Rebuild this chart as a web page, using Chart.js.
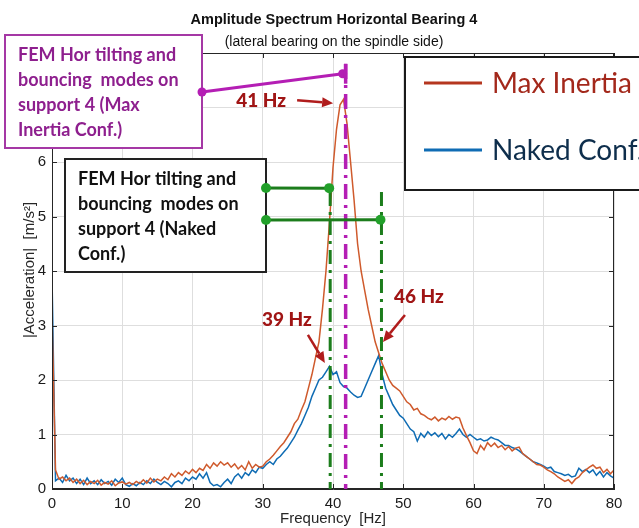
<!DOCTYPE html>
<html>
<head>
<meta charset="utf-8">
<script src="https://cdn.jsdelivr.net/npm/chart.js@4.4.0/dist/chart.umd.min.js"></script>
<style>
  html, body { margin: 0; padding: 0; background: #fff; }
</style>
</head>
<body>
<canvas id="chart" width="639" height="528"></canvas>
<script>
const FREQ_STEP = 0.5;

const maxInertia = [
    3.2, 0.35, 0.18, 0.22, 0.15, 0.2, 0.12, 0.18, 0.1, 0.16,
    0.08, 0.14, 0.1, 0.16, 0.07, 0.12, 0.09, 0.15, 0.06, 0.11,
    0.13, 0.09, 0.12, 0.08, 0.14, 0.1, 0.17, 0.11, 0.2, 0.13,
    0.18, 0.15, 0.22, 0.17, 0.28, 0.22, 0.3, 0.25, 0.33, 0.28,
    0.36, 0.3, 0.38, 0.34, 0.45, 0.38, 0.48, 0.42, 0.5, 0.44,
    0.48, 0.4, 0.46, 0.37, 0.43, 0.35, 0.5, 0.38, 0.45, 0.4,
    0.42, 0.5, 0.55, 0.62, 0.7, 0.78, 0.85, 0.95, 1.05, 1.2,
    1.28, 1.45, 1.6, 1.85, 2.1, 2.4, 2.7, 3.3, 4.0, 4.9,
    5.9, 6.6, 7.05, 7.15, 6.7, 6.0, 5.3, 4.5, 4.0, 3.65,
    3.3, 3.0, 2.7, 2.5, 2.3, 2.15, 2.0, 1.9, 1.85, 1.8,
    1.7, 1.6, 1.55, 1.45, 1.48, 1.38, 1.35, 1.3, 1.27, 1.32,
    1.25, 1.3, 1.27, 1.33, 1.28, 1.32, 1.3, 1.12, 0.98, 0.85,
    0.7, 0.65, 0.8, 0.72, 0.85, 0.78, 0.84, 0.76, 0.8, 0.72,
    0.78, 0.7, 0.75, 0.77, 0.65, 0.6, 0.55, 0.5, 0.45, 0.44,
    0.4, 0.35, 0.32, 0.28, 0.22, 0.18, 0.14, 0.17, 0.1, 0.18,
    0.22, 0.3, 0.35, 0.4, 0.44, 0.38, 0.4, 0.3, 0.36, 0.28,
    0.35
];

const naked = [
    3.9, 0.15, 0.2, 0.12, 0.25, 0.15, 0.2, 0.1, 0.18, 0.08,
    0.2, 0.1, 0.15, 0.08, 0.17, 0.1, 0.14, 0.07, 0.18, 0.12,
    0.2, 0.08, 0.05, 0.1, 0.06, 0.12, 0.08, 0.15, 0.1, 0.18,
    0.12, 0.08, 0.14, 0.1, 0.04, 0.12, 0.15, 0.1, 0.2, 0.15,
    0.22, 0.18, 0.28, 0.2, 0.3, 0.12, 0.06, 0.08, 0.04, 0.12,
    0.18, 0.1, 0.22, 0.28, 0.2, 0.3, 0.25, 0.35, 0.3, 0.4,
    0.38, 0.45, 0.5, 0.45, 0.55, 0.6, 0.68, 0.75, 0.85, 0.95,
    1.08, 1.2, 1.35, 1.5, 1.7, 1.85, 2.0, 2.05, 2.15, 2.25,
    2.1, 2.15, 1.95, 1.88, 1.85, 1.78, 1.72, 1.68, 1.7, 1.85,
    2.0, 2.15, 2.3, 2.45, 2.1, 1.85, 1.7, 1.55, 1.45, 1.35,
    1.3, 1.2, 1.1, 1.05, 0.88, 1.02, 0.95, 1.05, 0.98, 1.03,
    0.96, 1.02, 0.92, 1.0, 0.95, 1.02, 1.1, 1.0, 0.95, 1.0,
    0.95, 0.9, 0.92, 0.88, 0.9, 0.95, 0.92, 0.9, 0.85, 0.8,
    0.8, 0.76, 0.74, 0.7, 0.65, 0.6, 0.55, 0.5, 0.48, 0.45,
    0.42, 0.38, 0.4, 0.32, 0.3, 0.28, 0.25, 0.27, 0.22, 0.24,
    0.38, 0.32, 0.36, 0.3, 0.35, 0.25, 0.32, 0.22, 0.3, 0.24,
    0.2
];

const seriesLabels = ['Max Inertia', 'Naked Conf.'];
const xTicks = [0, 10, 20, 30, 40, 50, 60, 70, 80];
const yTicks = [0, 1, 2, 3, 4, 5, 6, 7, 8];

// FEM mode frequencies (vertical dash-dot lines)
const femMaxInertia = [41.8];
const femNaked = [39.6, 46.9];

// measured peaks with their labels
const peakLabels = ['41 Hz', '39 Hz', '46 Hz'];
const peakFreqs = [41.3, 39.7, 46.4];
const peakValues = [7.17, 2.24, 2.46];

const COLORS = {
    max: '#cf5a2c',
    naked: '#0f6cb4',
    purple: '#b41eb4',
    purpleText: '#8e1f8e',
    green: '#1c7d1c',
    peak: '#a01515',
    axis: '#262626',
    grid: '#dedede'
};

const toPoints = (vals) => vals.map((v, i) => ({ x: i * FREQ_STEP, y: v }));

function dot(ctx, x, y, r, color) {
    ctx.beginPath();
    ctx.arc(x, y, r, 0, Math.PI * 2);
    ctx.fillStyle = color;
    ctx.fill();
}

function line(ctx, x0, y0, x1, y1, color, width, dash) {
    ctx.save();
    ctx.strokeStyle = color;
    ctx.lineWidth = width;
    ctx.setLineDash(dash || []);
    ctx.beginPath();
    ctx.moveTo(x0, y0);
    ctx.lineTo(x1, y1);
    ctx.stroke();
    ctx.restore();
}

function arrow(ctx, x0, y0, x1, y1, color) {
    const a = Math.atan2(y1 - y0, x1 - x0);
    const head = 11;
    const bx = x1 - head * Math.cos(a), by = y1 - head * Math.sin(a);
    line(ctx, x0, y0, bx, by, color, 2.5);
    ctx.beginPath();
    ctx.moveTo(x1, y1);
    ctx.lineTo(bx + 5 * Math.sin(a), by - 5 * Math.cos(a));
    ctx.lineTo(bx - 5 * Math.sin(a), by + 5 * Math.cos(a));
    ctx.closePath();
    ctx.fillStyle = color;
    ctx.fill();
}

function textBox(ctx, box, lines, textColor, borderColor) {
    ctx.fillStyle = '#fff';
    ctx.fillRect(box.x, box.y, box.w, box.h);
    ctx.strokeStyle = borderColor;
    ctx.lineWidth = 2;
    ctx.strokeRect(box.x, box.y, box.w, box.h);
    ctx.fillStyle = textColor;
    ctx.font = 'bold 18px Lato';
    ctx.textAlign = 'left';
    ctx.textBaseline = 'middle';
    lines.forEach((t, i) => ctx.fillText(t, box.x + 13, box.y + 20 + i * 25));
}

const overlayPlugin = {
    id: 'overlay',
    afterDraw(chart) {
        const ctx = chart.ctx;
        const xs = chart.scales.x, ys = chart.scales.y;
        const a = chart.chartArea;
        ctx.save();

        // axes box with inward ticks
        ctx.strokeStyle = COLORS.axis;
        ctx.lineWidth = 1;
        ctx.strokeRect(a.left + 0.5, a.top + 0.5, a.right - a.left - 1, a.bottom - a.top - 1);
        ctx.beginPath();
        xTicks.forEach(t => {
            const px = Math.round(xs.getPixelForValue(t)) + 0.5;
            ctx.moveTo(px, a.bottom); ctx.lineTo(px, a.bottom - 5);
            ctx.moveTo(px, a.top); ctx.lineTo(px, a.top + 5);
        });
        yTicks.forEach(t => {
            const py = Math.round(ys.getPixelForValue(t)) + 0.5;
            ctx.moveTo(a.left, py); ctx.lineTo(a.left + 5, py);
            ctx.moveTo(a.right, py); ctx.lineTo(a.right - 5, py);
        });
        ctx.stroke();

        const bottom = ys.getPixelForValue(0);
        // FEM lines
        femMaxInertia.forEach(f => {
            const px = xs.getPixelForValue(f);
            line(ctx, px, ys.getPixelForValue(7.8), px, bottom, COLORS.purple, 3.5, [15, 6, 3, 6]);
        });
        femNaked.forEach(f => {
            const px = xs.getPixelForValue(f);
            line(ctx, px, ys.getPixelForValue(5.45), px, bottom, COLORS.green, 3, [14, 6, 3, 6]);
        });

        // boxes
        const purpleBox = { x: 5, y: 35, w: 197, h: 113 };
        const blackBox = { x: 65, y: 159, w: 201, h: 113 };
        textBox(ctx, purpleBox, ['FEM Hor tilting and', 'bouncing  modes on', 'support 4 (Max', 'Inertia Conf.)'],
            COLORS.purpleText, '#a538a5');
        textBox(ctx, blackBox, ['FEM Hor tilting and', 'bouncing  modes on', 'support 4 (Naked', 'Conf.)'],
            '#111', '#222');

        // connectors from the boxes to the FEM lines
        const pEnd = { x: xs.getPixelForValue(femMaxInertia[0]) - 3, y: ys.getPixelForValue(7.62) };
        line(ctx, purpleBox.x + purpleBox.w, purpleBox.y + 57, pEnd.x, pEnd.y, COLORS.purple, 3);
        dot(ctx, purpleBox.x + purpleBox.w, purpleBox.y + 57, 4.5, COLORS.purple);
        dot(ctx, pEnd.x, pEnd.y, 4.5, COLORS.purple);
        line(ctx, pEnd.x + 3, pEnd.y - 10, pEnd.x + 3, pEnd.y + 10, COLORS.purple, 3.5);

        const gEnds = [
            { x: xs.getPixelForValue(femNaked[0]) - 1, y: ys.getPixelForValue(5.52), oy: 29 },
            { x: xs.getPixelForValue(femNaked[1]) - 1, y: ys.getPixelForValue(4.94), oy: 61 }
        ];
        gEnds.forEach(g => {
            line(ctx, blackBox.x + blackBox.w, blackBox.y + g.oy, g.x, g.y, COLORS.green, 3);
            dot(ctx, blackBox.x + blackBox.w, blackBox.y + g.oy, 5, '#22a02a');
            dot(ctx, g.x, g.y, 5, '#22a02a');
        });

        // peak labels and arrows
        const offsets = [
            { tip: [-9, 5], tail: [-45, 2], text: [-106, 3] },
            { tip: [-6, -4], tail: [-23, -32], text: [-69, -47] },
            { tip: [5, -13], tail: [27, -40], text: [16, -58] }
        ];
        ctx.font = '900 19px Lato';
        ctx.textAlign = 'left';
        ctx.textBaseline = 'middle';
        peakLabels.forEach((lab, i) => {
            const px = xs.getPixelForValue(peakFreqs[i]);
            const py = ys.getPixelForValue(peakValues[i]);
            const o = offsets[i];
            arrow(ctx, px + o.tail[0], py + o.tail[1], px + o.tip[0], py + o.tip[1], '#b01c1c');
            ctx.fillStyle = COLORS.peak;
            ctx.fillText(lab, px + o.text[0], py + o.text[1]);
        });

        // legend
        const lg = { x: 405, y: 57, w: 245, h: 133 };
        ctx.fillStyle = '#fff';
        ctx.fillRect(lg.x, lg.y, lg.w, lg.h);
        ctx.strokeStyle = '#1a1a1a';
        ctx.lineWidth = 2;
        ctx.strokeRect(lg.x, lg.y, lg.w, lg.h);
        const legendColors = [['#b5361f', '#a3281b'], [COLORS.naked, '#0e2e4c']];
        ctx.font = '28px Lato';
        seriesLabels.forEach((lab, i) => {
            const ly = lg.y + 26 + i * 67;
            line(ctx, lg.x + 19, ly, lg.x + 77, ly, legendColors[i][0], 3);
            ctx.fillStyle = legendColors[i][1];
            ctx.fillText(lab, lg.x + 87, ly + 1);
        });

        // titles
        ctx.fillStyle = '#111';
        ctx.textAlign = 'center';
        ctx.font = 'bold 14.5px "Liberation Sans"';
        ctx.fillText('Amplitude Spectrum Horizontal Bearing 4', 334, 20);
        ctx.font = '14px "Liberation Sans"';
        ctx.fillText('(lateral bearing on the spindle side)', 334, 42);
        ctx.font = '15px "Liberation Sans"';
        ctx.fillStyle = '#262626';
        ctx.fillText('Frequency  [Hz]', (a.left + a.right) / 2, 519);
        ctx.save();
        ctx.translate(30, 270);
        ctx.rotate(-Math.PI / 2);
        ctx.fillText('|Acceleration|  [m/s²]', 0, 0);
        ctx.restore();

        ctx.restore();
    }
};

new Chart(document.getElementById('chart'), {
    type: 'line',
    data: {
        datasets: [
            {
                label: seriesLabels[0],
                data: toPoints(maxInertia),
                borderColor: COLORS.max,
                borderWidth: 1.5,
                pointRadius: 0,
                tension: 0
            },
            {
                label: seriesLabels[1],
                data: toPoints(naked),
                borderColor: COLORS.naked,
                borderWidth: 1.5,
                pointRadius: 0,
                tension: 0
            }
        ]
    },
    options: {
        responsive: false,
        animation: false,
        layout: { padding: { top: 53, right: 25, left: 0, bottom: 0 } },
        plugins: {
            legend: { display: false },
            tooltip: { enabled: false },
            title: { display: false }
        },
        scales: {
            x: {
                type: 'linear',
                min: 0,
                max: 80,
                afterFit(scale) { scale.height = 39; },
                afterBuildTicks(scale) { scale.ticks = xTicks.map(v => ({ value: v })); },
                grid: { color: COLORS.grid, drawTicks: false },
                border: { color: COLORS.axis },
                ticks: {
                    color: '#1a1a1a',
                    padding: 6,
                    maxRotation: 0,
                    font: { family: 'Liberation Sans', size: 15 }
                }
            },
            y: {
                min: 0,
                max: 8,
                afterFit(scale) { scale.width = 52; },
                afterBuildTicks(scale) { scale.ticks = yTicks.map(v => ({ value: v })); },
                grid: { color: COLORS.grid, drawTicks: false },
                border: { color: COLORS.axis },
                ticks: {
                    color: '#1a1a1a',
                    padding: 6,
                    font: { family: 'Liberation Sans', size: 15 }
                }
            }
        }
    },
    plugins: [overlayPlugin]
});
</script>
</body>
</html>
